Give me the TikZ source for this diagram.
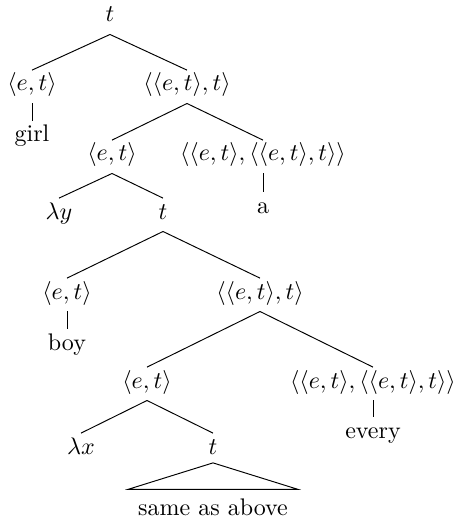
\documentclass[tikz,border=0pt]{standalone}
\usepackage{tikz}
\usepackage{amsmath}
\tikzstyle{cat} = [inner sep=0pt, text height=7.5pt, text depth=2.5pt, anchor=base]
\tikzstyle{branch} = [line width=0.4pt]

\begin{document}
\begin{tikzpicture}[x=0.4167pt, y=-0.4167pt]
    \useasboundingbox (0,0) rectangle (458,521);
    % upper tree
    \node (root) [cat] at (110,22) {$t$};
    \node (et1) [cat] at (32,91) {$\langle e,t\rangle$};
    \node (girl) [cat] at (32,142) {girl};
    \node (gq1) [cat] at (187,91) {$\langle\langle e,t\rangle,t\rangle$};
    \node (et2) [cat] at (112,161) {$\langle e,t\rangle$};
    \node (det1) [cat] at (263,161) {$\langle\langle e,t\rangle,\langle\langle e,t\rangle,t\rangle\rangle$};
    \node (a) [cat] at (263,213) {a};
    \node (lamy) [cat] at (59,219) {$\lambda y$};
    \node (t1) [cat] at (163,219) {$t$};
    % lower tree
    \node (et3) [cat] at (67,299) {$\langle e,t\rangle$};
    \node (boy) [cat] at (67,350) {boy};
    \node (gq2) [cat] at (260,299) {$\langle\langle e,t\rangle,t\rangle$};
    \node (et4) [cat] at (147,388) {$\langle e,t\rangle$};
    \node (det2) [cat] at (373,388) {$\langle\langle e,t\rangle,\langle\langle e,t\rangle,t\rangle\rangle$};
    \node (every) [cat] at (373,438) {every};
    \node (lamx) [cat] at (81,454) {$\lambda x$};
    \node (t2) [cat] at (213,454) {$t$};
    \node (same) [cat] at (213,515) {same as above};

    \draw[branch] ([yshift=-2.5pt]root.south) -- ([yshift=1pt]et1.north);
    \draw[branch] ([yshift=-2.5pt]root.south) -- ([yshift=1pt]gq1.north);
    \draw[branch] ([yshift=-2.5pt]et1.south) -- ([yshift=1pt]girl.north);
    \draw[branch] ([yshift=-2.5pt]gq1.south) -- ([yshift=1pt]et2.north);
    \draw[branch] ([yshift=-2.5pt]gq1.south) -- ([yshift=1pt]det1.north);
    \draw[branch] ([yshift=-2.5pt]det1.south) -- ([yshift=1pt]a.north);
    \draw[branch] ([yshift=-2.5pt]et2.south) -- ([yshift=1pt]lamy.north);
    \draw[branch] ([yshift=-2.5pt]et2.south) -- ([yshift=1pt]t1.north);
    \draw[branch] ([yshift=-2.5pt]t1.south) -- ([yshift=1pt]et3.north);
    \draw[branch] ([yshift=-2.5pt]t1.south) -- ([yshift=1pt]gq2.north);
    \draw[branch] ([yshift=-2.5pt]et3.south) -- ([yshift=1pt]boy.north);
    \draw[branch] ([yshift=-2.5pt]gq2.south) -- ([yshift=1pt]et4.north);
    \draw[branch] ([yshift=-2.5pt]gq2.south) -- ([yshift=1pt]det2.north);
    \draw[branch] ([yshift=-2.5pt]det2.south) -- ([yshift=1pt]every.north);
    \draw[branch] ([yshift=-2.5pt]et4.south) -- ([yshift=1pt]lamx.north);
    \draw[branch] ([yshift=-2.5pt]et4.south) -- ([yshift=1pt]t2.north);
    \draw[branch] ([yshift=-1pt]t2.south) -- ([xshift=-4pt,yshift=3pt]same.north west)
        -- ([xshift=4pt,yshift=3pt]same.north east) -- cycle;
\end{tikzpicture}
\end{document}
